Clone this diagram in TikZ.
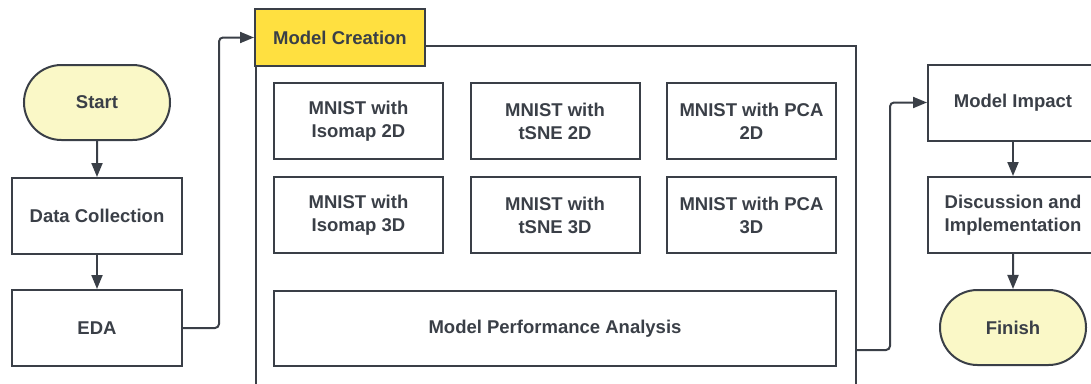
\documentclass[tikz,border=0pt]{standalone}
\usepackage{fontspec}
\setmainfont{Liberation Sans}
\usetikzlibrary{shapes.misc,arrows.meta}

\definecolor{ink}{RGB}{58,63,71}
\definecolor{paleyellow}{RGB}{250,248,199}
\definecolor{tabyellow}{RGB}{255,224,64}

\tikzset{
  box/.style={draw=ink, line width=2pt, fill=white, minimum width=170pt, minimum height=76pt,
    inner sep=2pt, align=center, text=ink, font=\fontsize{18.5}{23}\selectfont\bfseries},
  terminal/.style={box, rounded rectangle, fill=paleyellow, minimum width=150pt, minimum height=75pt},
  link/.style={draw=ink, line width=2pt, rounded corners=4pt, -{Triangle[length=14pt,width=11pt]}}
}

\begin{document}
\begin{tikzpicture}[x=1pt,y=-1pt]
\useasboundingbox (0,0) rectangle (1091,383);
\clip (0,0) rectangle (1091,383);

% left column
\node[terminal] (start) at (97,102.5) {Start};
\node[box] (dc) at (97,216) {Data Collection};
\node[box] (eda) at (97,328) {EDA};

% model creation container
\draw[draw=ink, line width=2pt] (256,46) rectangle (856,420);
\node[box, fill=tabyellow, minimum width=170pt, minimum height=57pt] (tab) at (340,37.5) {Model Creation};

\node[box, minimum width=169pt] (iso2) at (358.5,121) {MNIST with\\Isomap 2D};
\node[box, minimum width=169pt] (tsne2) at (555,121) {MNIST with\\tSNE 2D};
\node[box, minimum width=169pt] (pca2) at (751.5,121) {MNIST with PCA\\2D};
\node[box, minimum width=169pt] (iso3) at (358.5,215) {MNIST with\\Isomap 3D};
\node[box, minimum width=169pt] (tsne3) at (555,215) {MNIST with\\tSNE 3D};
\node[box, minimum width=169pt] (pca3) at (751.5,215) {MNIST with PCA\\3D};
\node[box, minimum width=562pt, minimum height=75pt] (mpa) at (555,328.5) {Model Performance Analysis};

% right column
\node[box] (impact) at (1013,102.5) {Model Impact};
\node[box] (disc) at (1013,215) {Discussion and\\Implementation};
\node[terminal] (finish) at (1013,327.5) {Finish};

\coordinate (cout) at (856,350);

% connectors
\draw[link] (start) -- (dc);
\draw[link] (dc) -- (eda);
\draw[link] (eda.east) -- ++(36,0) |- (tab.west);
\draw[link] (cout) -- ++(34,0) |- (impact.west);
\draw[link] (impact) -- (disc);
\draw[link] (disc) -- (finish);
\end{tikzpicture}
\end{document}
